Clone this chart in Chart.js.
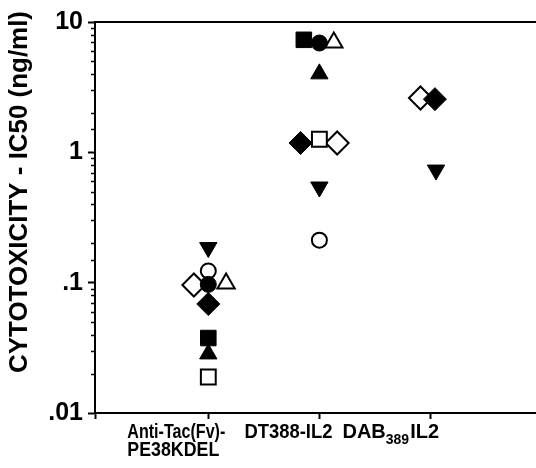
<!DOCTYPE html>
<html>
<head>
<meta charset="utf-8">
<script src="https://cdn.jsdelivr.net/npm/chart.js@4.4.0/dist/chart.umd.min.js"></script>
<style>
    html, body { margin: 0; padding: 0; background: #fff; overflow: hidden; }
    canvas { display: block; }
</style>
</head>
<body>
<canvas id="ic50Chart" width="536" height="468"></canvas>
<script>
// categories ("_" marks a subscript part, "\n" a line break)
const categories = ['Anti-Tac(Fv)-\nPE38KDEL', 'DT388-IL2', 'DAB_389_IL2'];
const yTitle = 'CYTOTOXICITY - IC50 (ng/ml)';
const yTickValues = [0.01, 0.1, 1, 10];
const yTickLabels = ['.01', '.1', '1', '10'];

// IC50 values (ng/ml); x = category position 1..3 with the small side shifts seen in the figure
const filledSquareX = [1.0, 1.86];
const filledSquareY = [0.0376, 7.3];
const openSquareX = [1.0, 2.0];
const openSquareY = [0.0189, 1.26];
const filledCircleX = [1.0, 2.0];
const filledCircleY = [0.097, 6.9];
const openCircleX = [1.0, 2.0];
const openCircleY = [0.123, 0.212];
const filledTriUpX = [1.0, 2.0];
const filledTriUpY = [0.0284, 4.0];
const openTriUpX = [1.16, 2.13];
const openTriUpY = [0.0986, 6.96];
const filledTriDownX = [1.0, 2.0, 3.05];
const filledTriDownY = [0.186, 0.542, 0.731];
const filledDiamondX = [1.0, 1.83, 3.04];
const filledDiamondY = [0.0686, 1.18, 2.56];
const openDiamondX = [0.87, 2.16, 2.91];
const openDiamondY = [0.096, 1.18, 2.61];

function pts(xs, ys) {
    return xs.map((x, i) => ({ x: x, y: ys[i] }));
}

function isMajor(v) {
    const l = Math.log10(v);
    return Math.abs(l - Math.round(l)) < 1e-6;
}

const FONT = "'Liberation Sans', Arial, sans-serif";

function marker(data, style, filled, radius, rotation) {
    return {
        data: data,
        pointStyle: style,
        pointRadius: radius,
        pointRotation: rotation || 0,
        pointBackgroundColor: filled ? '#000' : '#fff',
        pointBorderColor: '#000',
        pointBorderWidth: filled ? 1 : 2,
        showLine: false,
        clip: false
    };
}

// axis frame extras, minor ticks, rotated title and category labels
const decorations = {
    id: 'decorations',
    afterDraw(chart) {
        const ctx = chart.ctx;
        const area = chart.chartArea;
        const yScale = chart.scales.y;
        const xScale = chart.scales.x;
        ctx.save();
        ctx.strokeStyle = '#000';

        // top frame line
        ctx.lineWidth = 2;
        ctx.beginPath();
        ctx.moveTo(area.left, area.top);
        ctx.lineTo(area.right, area.top);
        ctx.stroke();

        // short minor ticks on the log axis
        ctx.lineWidth = 1.5;
        yScale.ticks.forEach(t => {
            if (isMajor(t.value)) return;
            const y = Math.round(yScale.getPixelForValue(t.value)) + 0.5;
            ctx.beginPath();
            ctx.moveTo(area.left - 4, y);
            ctx.lineTo(area.left, y);
            ctx.stroke();
        });

        // y title
        ctx.fillStyle = '#000';
        ctx.save();
        ctx.translate(20, 192);
        ctx.rotate(-Math.PI / 2);
        ctx.font = 'bold 26px ' + FONT;
        ctx.textAlign = 'center';
        ctx.textBaseline = 'middle';
        ctx.fillText(yTitle, 0, 0, 362);
        ctx.restore();

        // category labels (left edges relative to each category tick)
        const shift = [-81, -75, -88];
        const widths = [[98, 92], [88], [null]];
        ctx.textAlign = 'left';
        ctx.textBaseline = 'alphabetic';
        categories.forEach((label, i) => {
            const x0 = xScale.getPixelForValue(i + 1) + shift[i];
            label.split('\n').forEach((line, j) => {
                const base = 438 + j * 18;
                let x = x0;
                line.split('_').forEach((part, k) => {
                    const sub = k % 2 === 1;
                    ctx.font = 'bold ' + (sub ? 14 : 20) + 'px ' + FONT;
                    const mw = widths[i][j];
                    if (mw && !sub) {
                        ctx.fillText(part, x, base, mw);
                        x += Math.min(mw, ctx.measureText(part).width);
                    } else {
                        ctx.fillText(part, x, base + (sub ? 6 : 0));
                        x += ctx.measureText(part).width + (sub ? 1 : 0);
                    }
                });
            });
        });
        ctx.restore();
    }
};

const chart = new Chart(document.getElementById('ic50Chart').getContext('2d'), {
    type: 'scatter',
    data: {
        datasets: [
            marker(pts(filledCircleX, filledCircleY), 'circle', true, 8),
            marker(pts(filledDiamondX, filledDiamondY), 'rectRot', true, 11.5),
            marker(pts(filledSquareX, filledSquareY), 'rect', true, 11),
            marker(pts(filledTriUpX, filledTriUpY), 'triangle', true, 10),
            marker(pts(filledTriDownX, filledTriDownY), 'triangle', true, 10, 180),
            marker(pts(openSquareX, openSquareY), 'rect', false, 10.5),
            marker(pts(openCircleX, openCircleY), 'circle', false, 7.5),
            marker(pts(openTriUpX, openTriUpY), 'triangle', false, 10),
            marker(pts(openDiamondX, openDiamondY), 'rectRot', false, 11.5)
        ]
    },
    options: {
        responsive: false,
        animation: false,
        devicePixelRatio: 1,
        layout: {
            autoPadding: false,
            padding: { top: 22, right: 0, bottom: 0, left: 0 }
        },
        plugins: {
            legend: { display: false },
            tooltip: { enabled: false }
        },
        scales: {
            x: {
                type: 'linear',
                min: -0.02,
                max: 3.95,
                afterBuildTicks: s => {
                    s.ticks = [s.min, 1, 2, 3].map(v => ({ value: v }));
                },
                afterFit: s => {
                    s.height = 55;
                    s.paddingLeft = 0;
                    s.paddingRight = 0;
                },
                ticks: { display: false },
                grid: { drawOnChartArea: false, tickLength: 6, tickWidth: 2, tickColor: '#000' },
                border: { color: '#000', width: 2 }
            },
            y: {
                type: 'logarithmic',
                min: 0.01,
                max: 10,
                afterFit: s => {
                    s.width = 95;
                    s.paddingTop = 0;
                    s.paddingBottom = 0;
                },
                ticks: {
                    autoSkip: false,
                    padding: 5,
                    color: '#000',
                    font: { family: FONT, size: 25, weight: 'bold' },
                    callback: v => {
                        const i = yTickValues.findIndex(t => Math.abs(t - v) / t < 1e-6);
                        return i >= 0 ? yTickLabels[i] : '';
                    }
                },
                grid: {
                    drawOnChartArea: false,
                    tickLength: 7,
                    tickWidth: 2,
                    tickColor: c => (c.tick && isMajor(c.tick.value)) ? '#000' : 'rgba(0,0,0,0)'
                },
                border: { color: '#000', width: 2 }
            }
        }
    },
    plugins: [decorations]
});
</script>
</body>
</html>
